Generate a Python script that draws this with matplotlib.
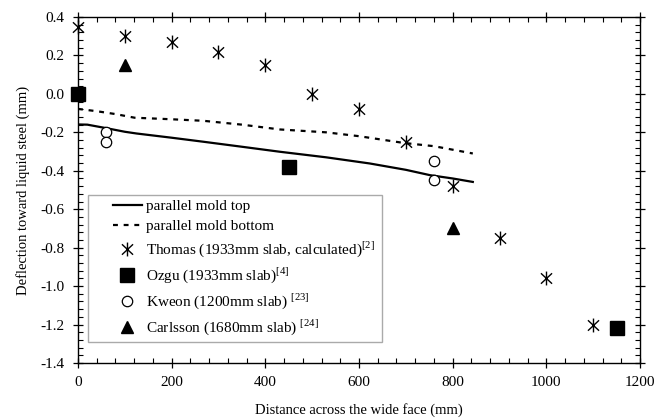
import matplotlib
matplotlib.use("Agg")
import matplotlib.pyplot as plt
import numpy as np
from matplotlib.path import Path
from matplotlib.patches import Rectangle
from matplotlib.ticker import MultipleLocator, FormatStrFormatter

plt.rcParams['font.family'] = ['Liberation Serif', 'DejaVu Serif']
plt.rcParams['mathtext.fontset'] = 'custom'
plt.rcParams['mathtext.rm'] = 'Liberation Serif'
plt.rcParams['axes.unicode_minus'] = False

# model curves
top_x = [0, 20, 60, 100, 125, 200, 268, 350, 431, 530, 623, 700, 752, 800, 843]
top_y = [-0.159, -0.16, -0.178, -0.197, -0.206, -0.228, -0.249, -0.275, -0.301, -0.33, -0.362, -0.395, -0.423, -0.44, -0.458]
bot_x = [0, 40, 80, 121, 200, 268, 350, 431, 530, 600, 695, 760, 843]
bot_y = [-0.078, -0.09, -0.105, -0.124, -0.132, -0.14, -0.16, -0.185, -0.2, -0.22, -0.255, -0.272, -0.31]

# measured / calculated points
thomas_x = [0, 100, 200, 300, 400, 500, 600, 700, 800, 900, 1000, 1100]
thomas_y = [0.35, 0.30, 0.27, 0.22, 0.15, 0.0, -0.08, -0.25, -0.48, -0.75, -0.96, -1.20]
ozgu_x = [0, 450, 1150]
ozgu_y = [0.0, -0.38, -1.22]
kweon_x = [60, 60, 760, 760]
kweon_y = [-0.20, -0.25, -0.35, -0.45]
carlsson_x = [100, 800]
carlsson_y = [0.15, -0.70]

# asterisk: X plus vertical bar
star = Path([(0, -1), (0, 1), (-0.8, -0.75), (0.8, 0.75), (-0.8, 0.75), (0.8, -0.75)],
            [Path.MOVETO, Path.LINETO] * 3)

fig = plt.figure(figsize=(6.62, 4.18), dpi=100)
ax = fig.add_axes([0.1178, 0.1316, 0.849, 0.8277])

ax.plot(top_x, top_y, '-', color='black', lw=1.6, label='parallel mold top')
ax.plot(bot_x, bot_y, color='black', lw=1.6, dashes=(2.2, 2.6), label='parallel mold bottom')
ax.plot(thomas_x, thomas_y, ls='none', marker=star, ms=10, mew=1.0, mec='black', mfc='none',
        clip_on=False, label='Thomas (1933mm slab, calculated)$^{\\mathrm{[2]}}$')
ax.plot(ozgu_x, ozgu_y, ls='none', marker='s', ms=9.5, color='black', clip_on=False,
        label='Ozgu (1933mm slab)$^{\\mathrm{[4]}}$')
ax.plot(kweon_x, kweon_y, ls='none', marker='o', ms=7.5, mfc='white', mec='black', mew=0.9,
        label='Kweon (1200mm slab) $^{\\mathrm{[23]}}$')
ax.plot(carlsson_x, carlsson_y, ls='none', marker='^', ms=9, color='black',
        label='Carlsson (1680mm slab) $^{\\mathrm{[24]}}$')

ax.set_xlim(0, 1200)
ax.set_ylim(-1.4, 0.4)
ax.xaxis.set_major_locator(MultipleLocator(200))
ax.xaxis.set_minor_locator(MultipleLocator(40))
ax.yaxis.set_major_locator(MultipleLocator(0.2))
ax.yaxis.set_minor_locator(MultipleLocator(0.04))
ax.yaxis.set_major_formatter(FormatStrFormatter('%.1f'))

ax.tick_params(which='major', direction='inout', length=7, width=0.9, top=True, right=True,
               labelsize=11, pad=6)
ax.tick_params(which='minor', direction='in', length=3.5, width=0.8, top=True, right=True)
for s in ax.spines.values():
    s.set_linewidth(1.0)

ax.set_xlabel('Distance across the wide face (mm)', fontsize=10.5, labelpad=10)
ax.set_ylabel('Deflection toward liquid steel (mm)', fontsize=10.5, labelpad=8)

# legend frame drawn separately so the entries can sit further in
ax.add_patch(Rectangle((0.018, 0.061), 0.523, 0.425, transform=ax.transAxes,
                       facecolor='white', edgecolor='#aaaaaa', lw=1.0, zorder=4))
leg = ax.legend(loc='upper left', bbox_to_anchor=(0.062, 0.473), frameon=False,
                fontsize=11, handlelength=1.9, handletextpad=0.25, labelspacing=0.42,
                borderaxespad=0, borderpad=0)
leg.set_zorder(5)

fig.savefig('out.png', dpi=100)
